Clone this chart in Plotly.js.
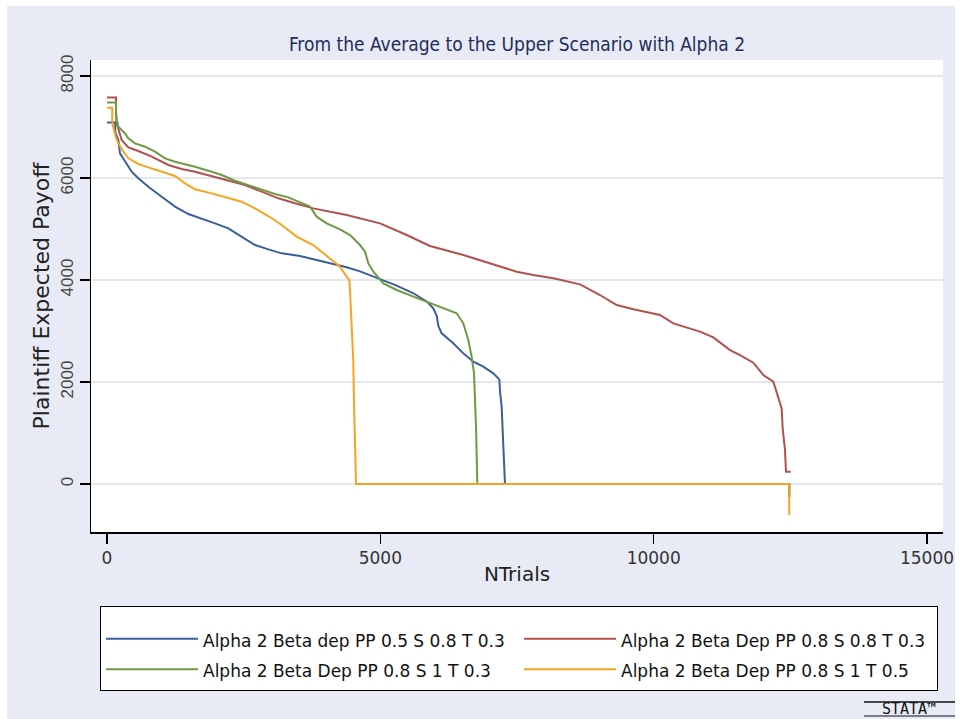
<!DOCTYPE html>
<html>
<head>
<meta charset="utf-8">
<script src="https://cdn.plot.ly/plotly-3.0.1.min.js"></script>
<style>html,body{margin:0;padding:0;background:#fff;}#chart{width:963px;height:719px;}</style>
</head>
<body>
<div id="chart"></div>
<script>
const seriesNames = [
  "Alpha 2 Beta dep PP 0.5 S 0.8 T 0.3",
  "Alpha 2 Beta Dep PP 0.8 S 0.8 T 0.3",
  "Alpha 2 Beta Dep PP 0.8 S 1 T 0.3",
  "Alpha 2 Beta Dep PP 0.8 S 1 T 0.5"
];
const seriesColors = ["#3b5e9c", "#b3504e", "#6e9a44", "#f7a31f"];

const blueX = [0,150,150,207,238,329,451,573,756,1000,1244,1488,1732,1976,2219,2463,2707,2951,3195,3530,3774,4140,4384,4628,4994,5299,5604,5848,5968,6031,6061,6122,6334,6517,6700,6883,7066,7176,7190,7219,7250,7280,12480,12480];
const blueY = [7090,7090,6900,6745,6484,6320,6124,5994,5830,5634,5438,5294,5209,5111,5013,4850,4686,4601,4523,4470,4410,4310,4250,4170,4010,3890,3740,3580,3445,3300,3100,2954,2758,2562,2399,2301,2170,2052,1800,1516,731,0,0,-250];

const redX = [0,165,165,177,268,390,573,817,1122,1366,1610,1915,2219,2524,2829,3134,3439,3774,4384,4994,5482,5908,6517,7128,7494,7798,8164,8652,9018,9323,9628,10115,10359,10847,11091,11396,11579,11822,12005,12188,12280,12341,12359,12402,12420,12506];
const redY = [7578,7578,7300,7072,6745,6601,6529,6418,6255,6176,6124,6039,5947,5863,5732,5602,5504,5405,5275,5111,4882,4667,4490,4294,4163,4098,4033,3915,3706,3510,3425,3314,3150,2987,2876,2627,2529,2379,2137,2006,1712,1484,1092,667,241,241];

const greenX = [0,165,165,207,329,390,512,695,878,1061,1244,1427,1610,1853,2097,2341,2585,2829,3073,3317,3469,3713,3835,4018,4262,4445,4628,4719,4780,4872,5055,5299,5604,5908,6213,6396,6517,6609,6670,6713,6750,6774,12480,12480];
const greenY = [7480,7480,7203,7007,6876,6778,6680,6614,6516,6386,6320,6275,6222,6144,6059,5947,5863,5778,5686,5621,5556,5438,5242,5111,4994,4882,4686,4555,4327,4163,3935,3804,3673,3543,3425,3347,3151,2824,2496,2170,1124,0,0,-250];

const orangeX = [0,95,95,159,207,299,390,573,756,1000,1244,1427,1610,1915,2219,2463,2707,2951,3195,3469,3774,4079,4262,4384,4433,4445,4457,4475,4494,4505,4518,4530,4555,12480,12480];
const orangeY = [7380,7380,7072,6810,6680,6516,6386,6275,6209,6124,6039,5896,5778,5699,5602,5536,5405,5255,5078,4850,4686,4425,4261,4065,4000,3800,3543,3300,2889,2400,1582,1000,0,0,-608];

const xTicks = [0, 5000, 10000, 15000];
const yTicks = [0, 2000, 4000, 6000, 8000];

const xs = [blueX, redX, greenX, orangeX];
const ys = [blueY, redY, greenY, orangeY];

const traces = xs.map((x, i) => ({
  type: "scatter", mode: "lines", x: x, y: ys[i],
  name: "<span style='font-size:17px'>" + seriesNames[i] + "</span>",
  line: {color: seriesColors[i], width: 2}
}));

// plot area in px: x 91..943, y 60..532
const L = 91, R = 943, T = 60, B = 532;
const px = v => (v - L) / (R - L);
const py = v => (B - v) / (B - T);
const narrow = "Liberation Sans Narrow, DejaVu Sans Condensed, Liberation Sans, sans-serif";
const dejavu = "DejaVu Sans, Verdana, sans-serif";

const layout = {
  width: 963, height: 719,
  margin: {l: L, r: 963 - R, t: T, b: 719 - B, pad: 0},
  paper_bgcolor: "#ffffff",
  plot_bgcolor: "rgba(0,0,0,0)",
  font: {family: "Liberation Sans, Arial, sans-serif", color: "#222"},
  title: {text: "From the Average to the Upper Scenario with Alpha 2",
          font: {size: 19, color: "#1f2d5c", family: narrow},
          xref: "paper", x: 0.5, xanchor: "center", yref: "container", y: 1 - 44/719, yanchor: "middle"},
  xaxis: {range: [-293, 15292], tickvals: xTicks, ticktext: xTicks.map(String),
          ticks: "outside", ticklen: 10, tickwidth: 1.5, tickcolor: "#000",
          showline: true, linecolor: "#000", linewidth: 1.5, showgrid: false, zeroline: false,
          tickfont: {size: 17, color: "#333", family: dejavu},
          title: {text: "NTrials", font: {size: 20, color: "#222", family: dejavu}, standoff: 0}},
  yaxis: {range: [-941, 8314], tickvals: yTicks, ticktext: yTicks.map(String), tickangle: -90,
          ticks: "outside", ticklen: 10, tickwidth: 1.5, tickcolor: "#000",
          showline: true, linecolor: "#000", linewidth: 1.5, showgrid: true, gridcolor: "#e3e7f4", gridwidth: 1.5,
          zeroline: false,
          tickfont: {size: 17, color: "#444"},
          title: {text: "Plaintiff Expected Payoff", font: {size: 22, color: "#222", family: dejavu}, standoff: 2}},
  showlegend: true,
  legend: {orientation: "h", x: px(100), xanchor: "left", y: py(606), yanchor: "top",
           bgcolor: "#ffffff", bordercolor: "#000", borderwidth: 1,
           font: {size: 21, color: "#111", family: dejavu},
           title: {text: " ", side: "top", font: {size: 9}},
           entrywidth: 311, entrywidthmode: "pixels", itemwidth: 92, traceorder: "normal"},
  shapes: [
    {type: "rect", xref: "paper", yref: "paper", x0: px(7), x1: px(955), y0: py(719), y1: py(6),
     fillcolor: "#e8ebf6", line: {width: 0}, layer: "below"},
    {type: "rect", xref: "paper", yref: "paper", x0: 0, x1: 1, y0: 0, y1: 1,
     fillcolor: "#ffffff", line: {width: 0}, layer: "below"},
    {type: "line", xref: "paper", yref: "paper", x0: px(864), x1: px(955), y0: py(702), y1: py(702),
     line: {color: "#111", width: 1.5}},
    {type: "line", xref: "paper", yref: "paper", x0: px(864), x1: px(955), y0: py(716), y1: py(716),
     line: {color: "#111", width: 1.2}}
  ],
  annotations: [
    {xref: "paper", yref: "paper", x: px(909), y: py(709), xanchor: "center", yanchor: "middle",
     text: "STATA™", showarrow: false, font: {size: 15, color: "#111", family: "DejaVu Sans Mono, monospace"}}
  ]
};

Plotly.newPlot("chart", traces, layout, {displayModeBar: false, staticPlot: true});
</script>
</body>
</html>
